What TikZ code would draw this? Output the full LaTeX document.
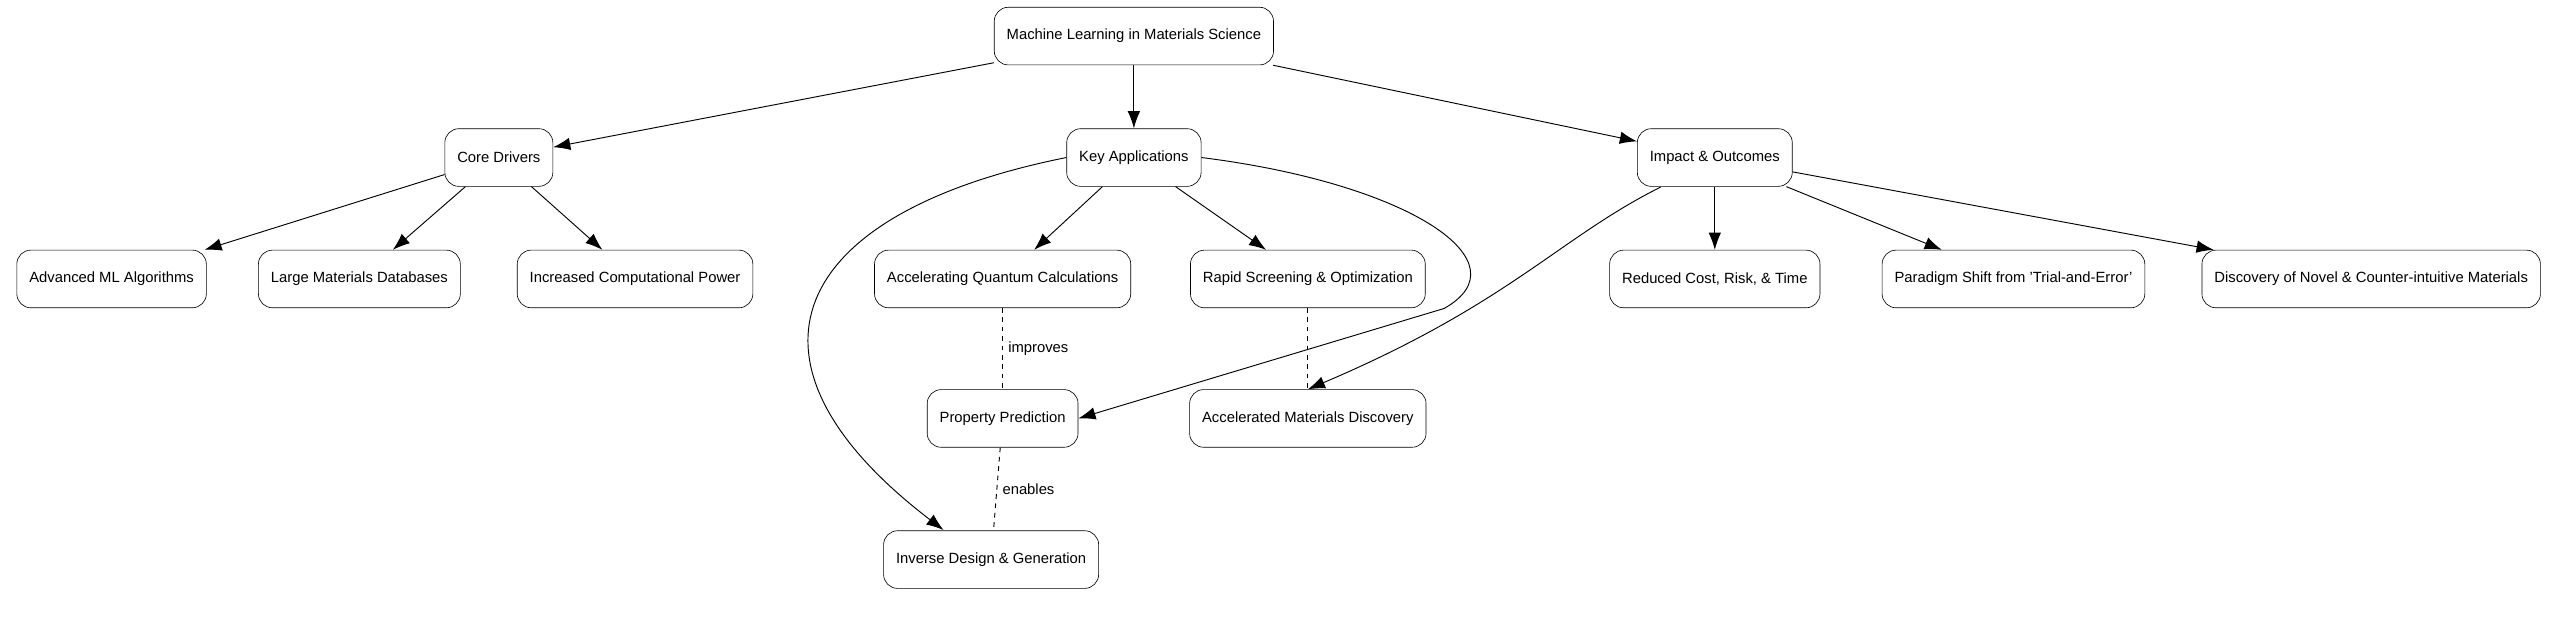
\documentclass[tikz,border=0pt]{standalone}
\usepackage{fontspec}
\setmainfont{Liberation Sans}
\usetikzlibrary{arrows.meta}
\tikzset{
	box/.style={draw, rounded corners=9pt, minimum height=1.3cm, inner xsep=8pt, font=\fontsize{9.5}{11}\selectfont},
	arr/.style={-{Latex[length=11pt,width=8pt]}, semithick},
	dashlink/.style={dashed, semithick}
}
\begin{document}
\begin{tikzpicture}[x=0.037cm, y=-0.037cm]
	\useasboundingbox (0,0) rectangle (1568,380);
	
	\node[box] (root) at (691,22) {Machine Learning in Materials Science};
	
	\node[box] (core) at (304,96) {Core Drivers};
	\node[box] (key) at (691,96) {Key Applications};
	\node[box] (impact) at (1045,96) {Impact \& Outcomes};
	
	\node[box] (algo) at (68,170) {Advanced ML Algorithms};
	\node[box] (data) at (219,170) {Large Materials Databases};
	\node[box] (power) at (387,170) {Increased Computational Power};
	\node[box] (quantum) at (611,170) {Accelerating Quantum Calculations};
	\node[box] (screen) at (797,170) {Rapid Screening \& Optimization};
	\node[box] (cost) at (1045,170) {Reduced Cost, Risk, \& Time};
	\node[box] (shift) at (1227,170) {Paradigm Shift from 'Trial-and-Error'};
	\node[box] (novel) at (1445,170) {Discovery of Novel \& Counter-intuitive Materials};
	
	\node[box] (prop) at (611,255) {Property Prediction};
	\node[box] (accel) at (797,255) {Accelerated Materials Discovery};
	\node[box] (inverse) at (604,341) {Inverse Design \& Generation};
	
	\draw[arr] (root) -- (core);
	\draw[arr] (root) -- (key);
	\draw[arr] (root) -- (impact);
	
	\draw[arr] (core) -- (algo);
	\draw[arr] (core) -- (data);
	\draw[arr] (core) -- (power);
	
	\draw[arr] (key) -- (quantum);
	\draw[arr] (key) -- (screen);
	\draw[arr] (key.east) .. controls (860,112) and (930,160) .. (880,188) -- (prop.east);
	\draw[arr] (key.west) .. controls (480,130) and (440,220) .. (575,323);
	
	\draw[arr] (impact) -- (cost);
	\draw[arr] (impact) -- (shift);
	\draw[arr] (impact) -- (novel);
	\draw[arr] (1012,114) .. controls (950,145) and (920,185) .. (accel.north);
	
	\draw[dashlink] (quantum) -- node[right, font=\fontsize{9.5}{11}\selectfont] {improves} (prop);
	\draw[dashlink] (screen) -- (accel);
	\draw[dashlink] (prop) -- node[right, font=\fontsize{9.5}{11}\selectfont] {enables} (inverse);
\end{tikzpicture}
\end{document}
